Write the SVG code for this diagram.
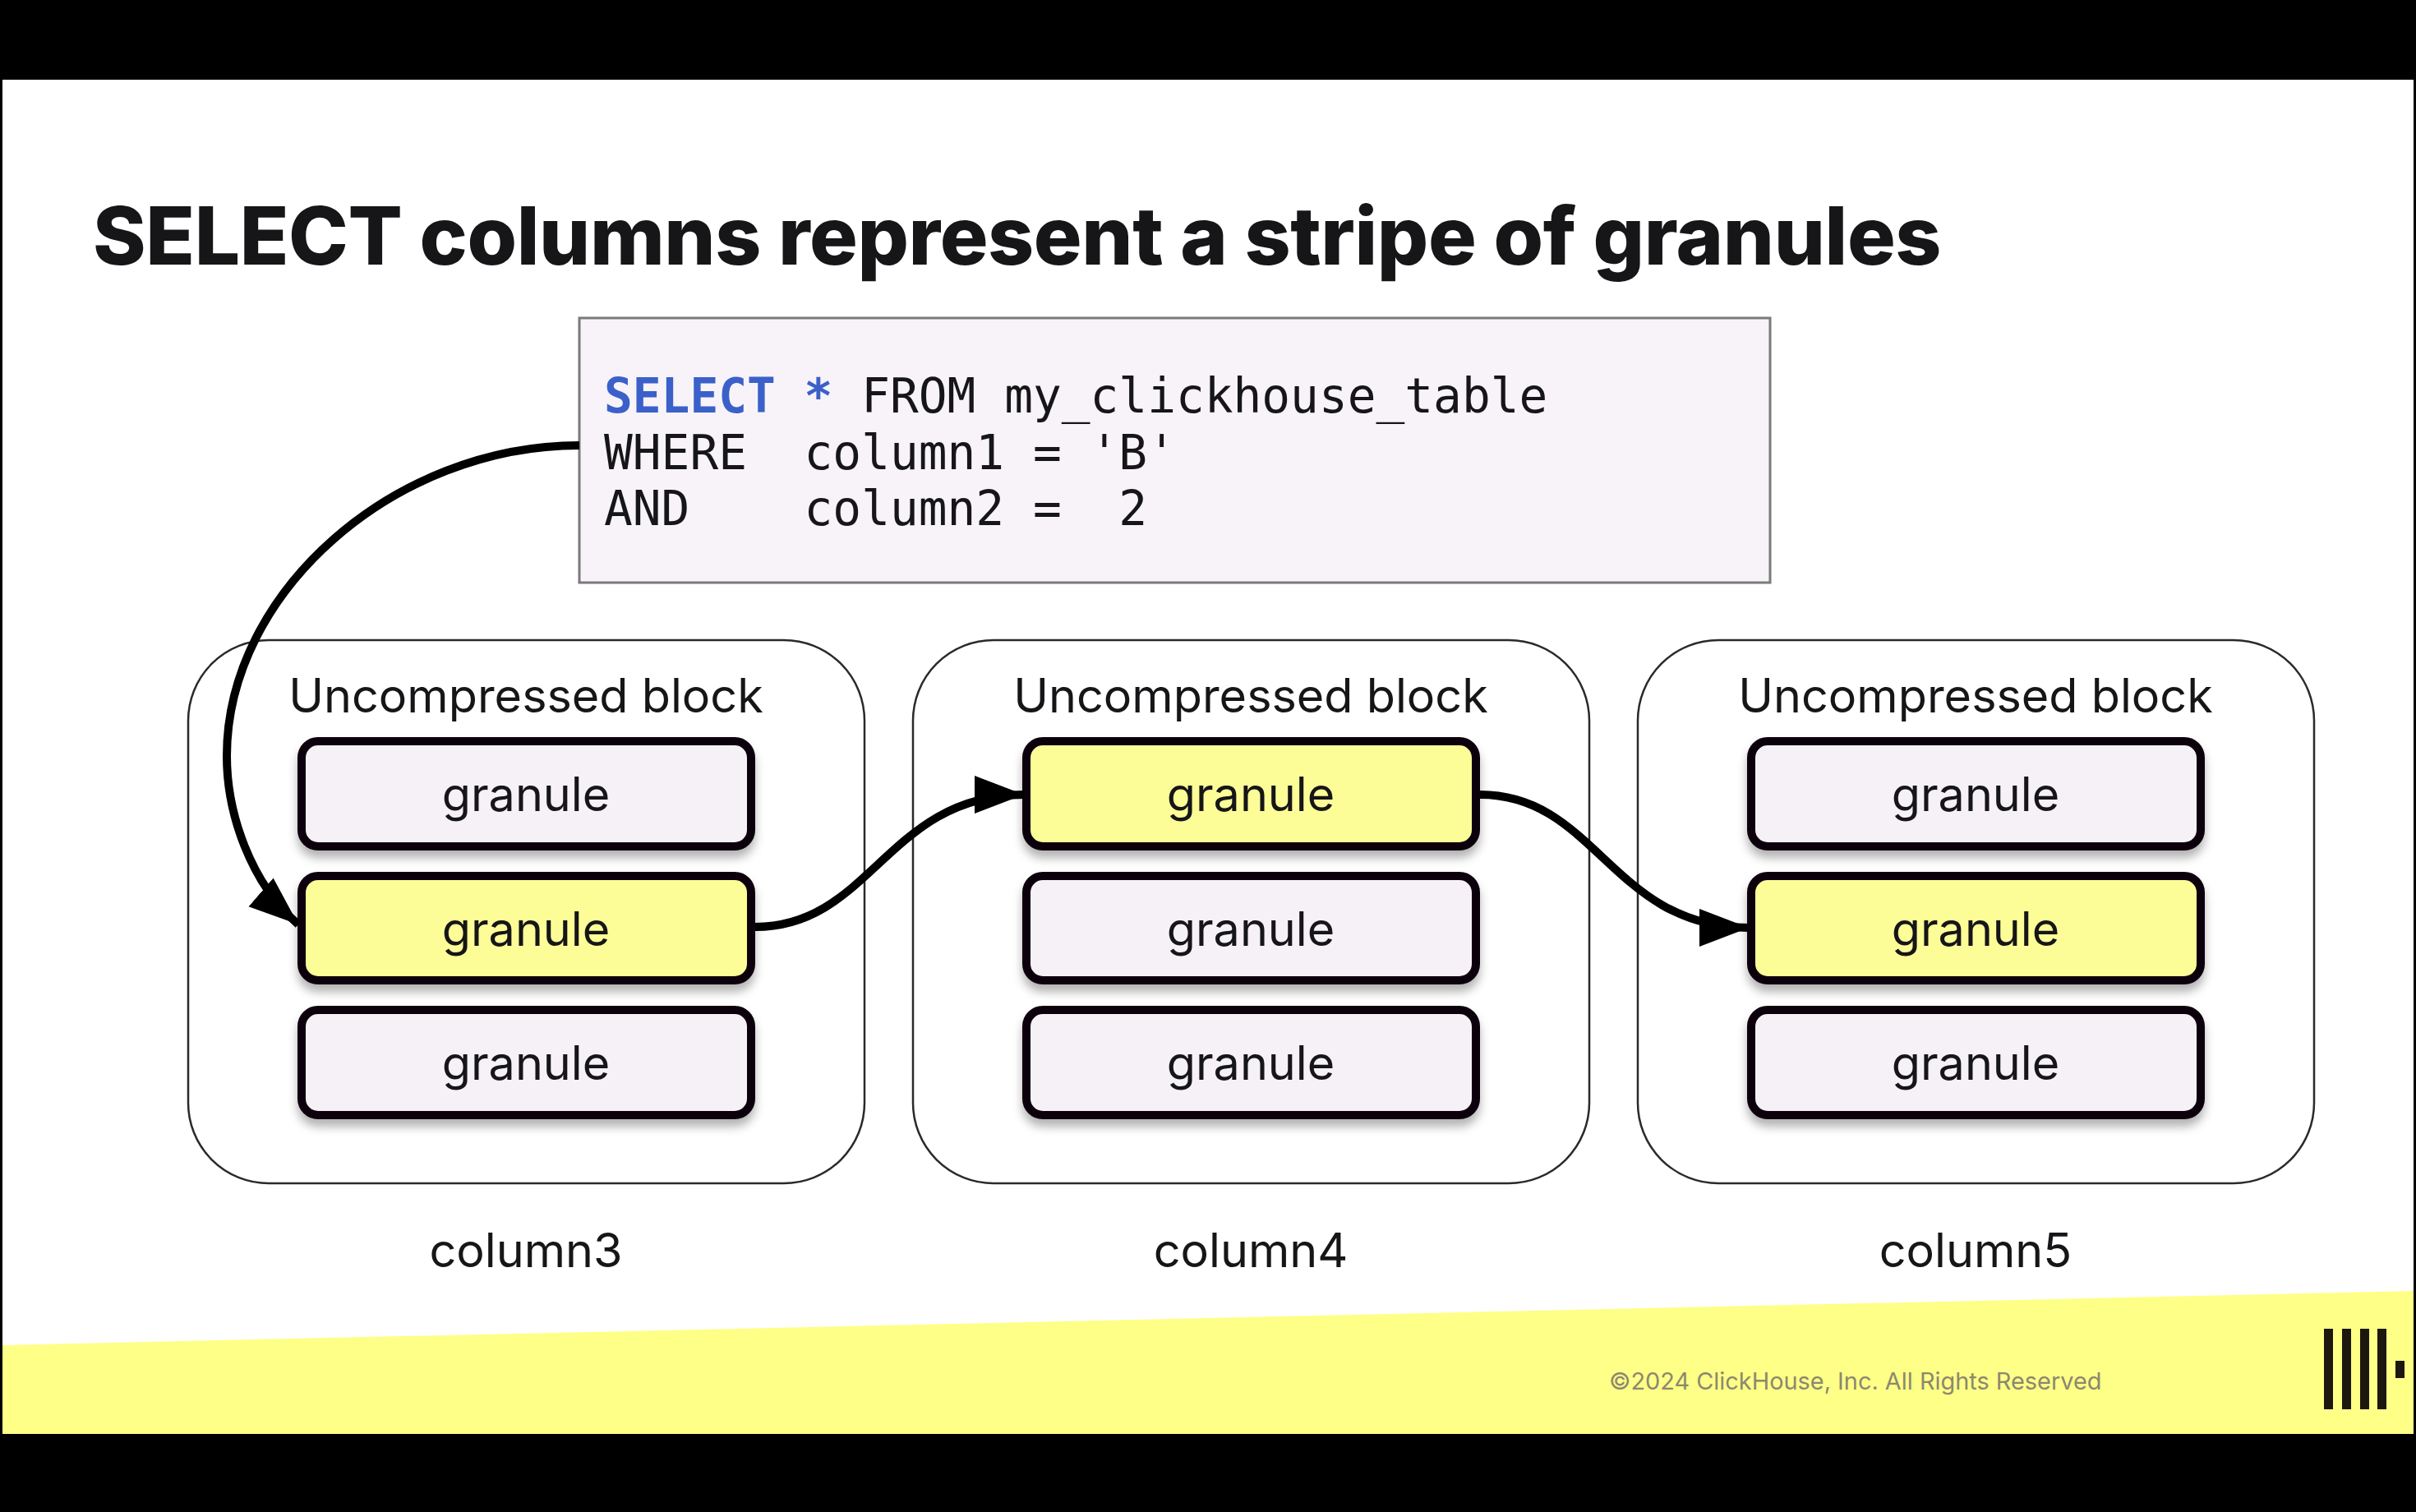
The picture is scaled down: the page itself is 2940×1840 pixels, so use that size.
<svg xmlns="http://www.w3.org/2000/svg" width="2940" height="1840" viewBox="0 0 2940 1840">
  <style>
    .ui { font-family: Inter, "Liberation Sans", sans-serif; fill: #161517; }
    .title { font-size: 98px; font-weight: 800; letter-spacing: -0.4px; }
    .label { font-size: 57.5px; text-anchor: middle; }
    .code { font-family: "DejaVu Sans Mono", "Liberation Mono", monospace; font-size: 57.8px; fill: #161517; white-space: pre; }
    .kw { fill: #3b60c9; font-weight: 700; }
    .block { fill: #fff; stroke: #2a2a2a; stroke-width: 2.5; }
    .granule { fill: #f5f1f6; stroke: #0a0608; stroke-width: 10; filter: url(#lift); }
    .on { fill: #fdfd98; }
    .wire { fill: none; stroke: #000; stroke-width: 10; }
  </style>
  <defs>
    <filter id="lift" x="-5%" y="-15%" width="110%" height="140%">
      <feDropShadow dx="0" dy="9" stdDeviation="6" flood-color="#000" flood-opacity="0.3"/>
    </filter>
    <marker id="head" markerUnits="userSpaceOnUse" markerWidth="64" markerHeight="50" refX="60" refY="25" orient="auto">
      <path d="M0 2 L60 25 L0 48 Z" fill="#000"/>
    </marker>
    <g id="stack">
      <rect class="block" x="229" y="779" width="823" height="661" rx="98"/>
      <text class="ui label" x="640" y="867">Uncompressed block</text>
    </g>
  </defs>

  <rect width="2940" height="1840" fill="#000"/>
  <rect x="3" y="97" width="2934" height="1648" fill="#fff"/>
  <path d="M3 1637 L2937 1571 L2937 1745 L3 1745 Z" fill="#feff86"/>

  <text class="ui title" x="113" y="322">SELECT columns represent a stripe of granules</text>

  <g id="query">
    <rect x="705" y="387" width="1449" height="322" fill="#f7f3f8" stroke="#7a7a7a" stroke-width="3"/>
    <text class="code" x="735" y="502"><tspan class="kw">SELECT *</tspan> FROM my_clickhouse_table</text>
    <text class="code" x="735" y="571">WHERE  column1 = 'B'</text>
    <text class="code" x="735" y="639">AND    column2 =  2</text>
  </g>

  <g id="column3">
    <use href="#stack"/>
    <rect class="granule" x="367" y="902" width="547" height="128" rx="20"/>
    <text class="ui label" x="640" y="987">granule</text>
    <rect class="granule on" x="367" y="1066" width="547" height="127" rx="20"/>
    <text class="ui label" x="640" y="1151">granule</text>
    <rect class="granule" x="367" y="1229" width="547" height="128" rx="20"/>
    <text class="ui label" x="640" y="1314">granule</text>
    <text class="ui label" x="640" y="1542">column3</text>
  </g>

  <g id="column4" transform="translate(882 0)">
    <use href="#stack"/>
    <rect class="granule on" x="367" y="902" width="547" height="128" rx="20"/>
    <text class="ui label" x="640" y="987">granule</text>
    <rect class="granule" x="367" y="1066" width="547" height="127" rx="20"/>
    <text class="ui label" x="640" y="1151">granule</text>
    <rect class="granule" x="367" y="1229" width="547" height="128" rx="20"/>
    <text class="ui label" x="640" y="1314">granule</text>
    <text class="ui label" x="640" y="1542">column4</text>
  </g>

  <g id="column5" transform="translate(1764 0)">
    <use href="#stack"/>
    <rect class="granule" x="367" y="902" width="547" height="128" rx="20"/>
    <text class="ui label" x="640" y="987">granule</text>
    <rect class="granule on" x="367" y="1066" width="547" height="127" rx="20"/>
    <text class="ui label" x="640" y="1151">granule</text>
    <rect class="granule" x="367" y="1229" width="547" height="128" rx="20"/>
    <text class="ui label" x="640" y="1314">granule</text>
    <text class="ui label" x="640" y="1542">column5</text>
  </g>

  <g id="connectors">
    <path class="wire" marker-end="url(#head)" d="M705 542 C480 542 276 720 276 920 C276 990 305 1075 363 1125"/>
    <path class="wire" marker-end="url(#head)" d="M919 1128 C1060 1128 1080 967 1246 967"/>
    <path class="wire" marker-end="url(#head)" d="M1801 967 C1942 967 1962 1129 2128 1129"/>
  </g>

  <g id="footer">
    <text x="1958" y="1691" font-family="Inter, 'Liberation Sans', sans-serif" font-size="28.9" fill="#8c8870">©2024 ClickHouse, Inc. All Rights Reserved</text>
    <g fill="#1c1810">
      <rect x="2828" y="1617" width="11" height="98"/>
      <rect x="2850" y="1617" width="11" height="98"/>
      <rect x="2872" y="1617" width="11" height="98"/>
      <rect x="2893" y="1617" width="11" height="98"/>
      <rect x="2915" y="1656" width="11" height="21"/>
    </g>
  </g>
</svg>
